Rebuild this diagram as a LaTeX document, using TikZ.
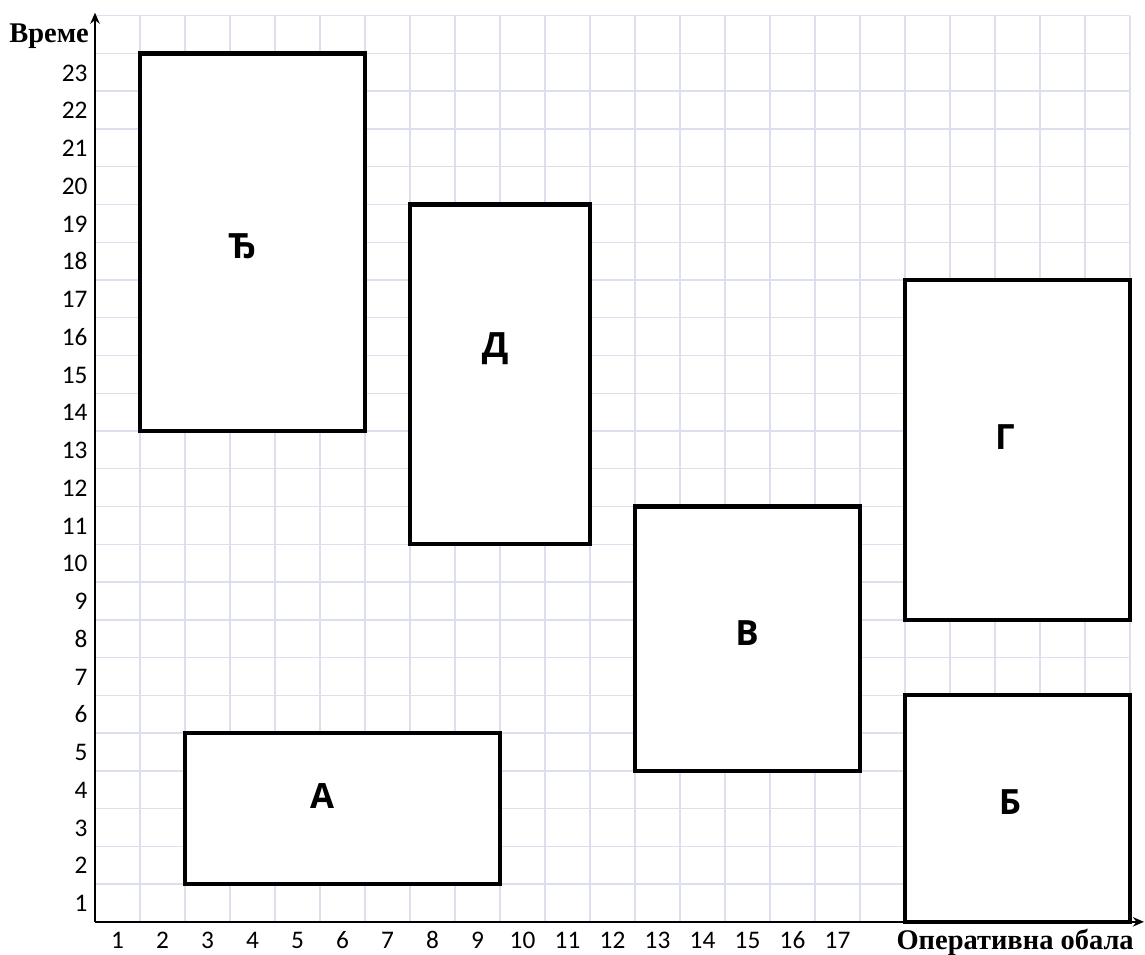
\documentclass[tikz,border=0pt]{standalone}
\usepackage{fontspec}
\setmainfont{Carlito}
\newfontfamily\slotfont{Open Sans}
\newfontfamily\axisfont{Liberation Serif}
\usetikzlibrary{arrows.meta}
\definecolor{grid-line}{HTML}{DCE0EE}
\definecolor{slot-line}{HTML}{000000}

\tikzset{
  gridline/.style={grid-line, line width=0.9pt},
  axisline/.style={slot-line, line width=1.5pt, -{Stealth[length=7pt,width=6pt]}},
  slot/.style={draw=slot-line, line width=2.6pt, fill=white},
  slotlabel/.style={anchor=base, font=\slotfont\bfseries\fontsize{22}{22}\selectfont},
  ticklabel/.style={inner sep=0pt, font=\fontsize{16}{16}\selectfont},
  axislabel/.style={inner sep=0pt, font=\axisfont\bfseries\fontsize{18}{18}\selectfont},
}

\begin{document}
\begin{tikzpicture}[x=1cm, y=0.839cm]

    \useasboundingbox (-2.111,-0.856) rectangle (23.333,24.416);

    % Mreza
    \foreach \i in {1,...,23}
        \draw[gridline] (\i,0) -- (\i,24);
    \foreach \j in {1,...,24}
        \draw[gridline] (0,\j) -- (23,\j);

    % Ose
    \coordinate (origin) at (0,0);
    \coordinate (xend) at (23.31,0);
    \coordinate (yend) at (0,24.08);
    \draw[axisline] (origin) -- (xend);
    \draw[axisline] (origin) -- (yend);

    % Oznake na osama
    \foreach \k in {1,...,17}
        \node[ticklabel, anchor=base] (xt\k) at (\k-0.5,-0.70) {\k};
    \foreach \k in {1,...,23}
        \node[ticklabel, anchor=base east] (yt\k) at (-0.16,\k-0.73) {\k};

    \node[axislabel, anchor=base east] (vreme) at (-0.13,23.3) {Време};
    \node[axislabel, anchor=base east] (obala) at (23.09,-0.72) {Оперативна обала};

    % Brodovi
    \draw[slot] (1,13) rectangle (6,23);
    \node[slotlabel] (dje) at (3.27,17.58) {Ђ};

    \draw[slot] (7,10) rectangle (11,19);
    \node[slotlabel] (de) at (8.89,14.96) {Д};

    \draw[slot] (12,4) rectangle (17,11);
    \node[slotlabel] (ve) at (14.49,7.33) {В};

    \draw[slot] (18,8) rectangle (23,17);
    \node[slotlabel] (ge) at (20.22,12.5) {Г};

    \draw[slot] (18,0) rectangle (23,6);
    \node[slotlabel] (be) at (20.33,2.85) {Б};

    \draw[slot] (2,1) rectangle (9,5);
    \node[slotlabel] (a) at (5.05,3.01) {А};

\end{tikzpicture}
\end{document}
